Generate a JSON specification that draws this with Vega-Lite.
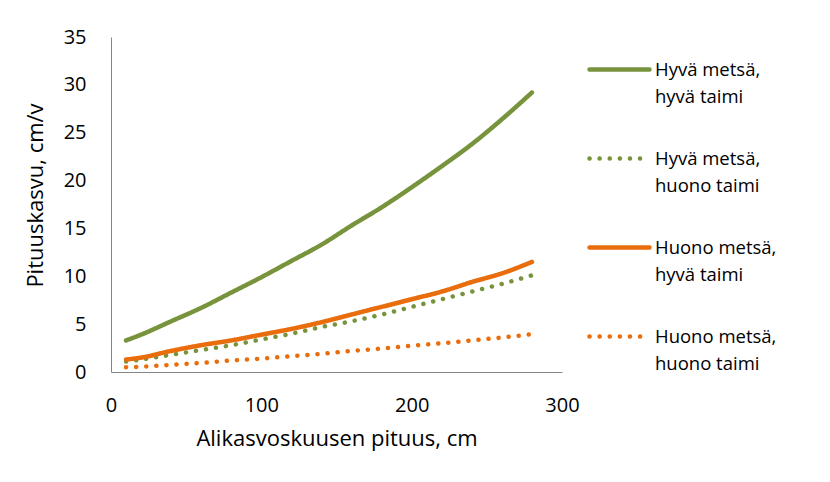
{
  "$schema": "https://vega.github.io/schema/vega-lite/v6.json",
  "width": 451,
  "height": 335,
  "autosize": "none",
  "padding": {"left": 111, "top": 37, "right": 268, "bottom": 110},
  "background": "white",
  "config": {"view": {"stroke": null}, "font": "Open Sans", "axis": {"labelColor": "#000000", "titleColor": "#000000"}},
  "data": {"values": [
    {"pituus": 10, "kasvu": 3.3, "sarja": "Hyvä metsä, hyvä taimi"},
    {"pituus": 20, "kasvu": 3.9, "sarja": "Hyvä metsä, hyvä taimi"},
    {"pituus": 40, "kasvu": 5.3, "sarja": "Hyvä metsä, hyvä taimi"},
    {"pituus": 60, "kasvu": 6.7, "sarja": "Hyvä metsä, hyvä taimi"},
    {"pituus": 80, "kasvu": 8.3, "sarja": "Hyvä metsä, hyvä taimi"},
    {"pituus": 100, "kasvu": 9.9, "sarja": "Hyvä metsä, hyvä taimi"},
    {"pituus": 120, "kasvu": 11.6, "sarja": "Hyvä metsä, hyvä taimi"},
    {"pituus": 140, "kasvu": 13.3, "sarja": "Hyvä metsä, hyvä taimi"},
    {"pituus": 160, "kasvu": 15.3, "sarja": "Hyvä metsä, hyvä taimi"},
    {"pituus": 180, "kasvu": 17.2, "sarja": "Hyvä metsä, hyvä taimi"},
    {"pituus": 200, "kasvu": 19.3, "sarja": "Hyvä metsä, hyvä taimi"},
    {"pituus": 220, "kasvu": 21.5, "sarja": "Hyvä metsä, hyvä taimi"},
    {"pituus": 240, "kasvu": 23.8, "sarja": "Hyvä metsä, hyvä taimi"},
    {"pituus": 260, "kasvu": 26.4, "sarja": "Hyvä metsä, hyvä taimi"},
    {"pituus": 280, "kasvu": 29.2, "sarja": "Hyvä metsä, hyvä taimi"},
    {"pituus": 10, "kasvu": 1.1, "sarja": "Hyvä metsä, huono taimi"},
    {"pituus": 20, "kasvu": 1.3, "sarja": "Hyvä metsä, huono taimi"},
    {"pituus": 40, "kasvu": 1.8, "sarja": "Hyvä metsä, huono taimi"},
    {"pituus": 60, "kasvu": 2.3, "sarja": "Hyvä metsä, huono taimi"},
    {"pituus": 80, "kasvu": 2.8, "sarja": "Hyvä metsä, huono taimi"},
    {"pituus": 100, "kasvu": 3.4, "sarja": "Hyvä metsä, huono taimi"},
    {"pituus": 120, "kasvu": 4.0, "sarja": "Hyvä metsä, huono taimi"},
    {"pituus": 140, "kasvu": 4.7, "sarja": "Hyvä metsä, huono taimi"},
    {"pituus": 160, "kasvu": 5.3, "sarja": "Hyvä metsä, huono taimi"},
    {"pituus": 180, "kasvu": 6.0, "sarja": "Hyvä metsä, huono taimi"},
    {"pituus": 200, "kasvu": 6.8, "sarja": "Hyvä metsä, huono taimi"},
    {"pituus": 220, "kasvu": 7.6, "sarja": "Hyvä metsä, huono taimi"},
    {"pituus": 240, "kasvu": 8.4, "sarja": "Hyvä metsä, huono taimi"},
    {"pituus": 260, "kasvu": 9.2, "sarja": "Hyvä metsä, huono taimi"},
    {"pituus": 280, "kasvu": 10.1, "sarja": "Hyvä metsä, huono taimi"},
    {"pituus": 10, "kasvu": 1.3, "sarja": "Huono metsä, hyvä taimi"},
    {"pituus": 20, "kasvu": 1.5, "sarja": "Huono metsä, hyvä taimi"},
    {"pituus": 40, "kasvu": 2.2, "sarja": "Huono metsä, hyvä taimi"},
    {"pituus": 60, "kasvu": 2.8, "sarja": "Huono metsä, hyvä taimi"},
    {"pituus": 80, "kasvu": 3.3, "sarja": "Huono metsä, hyvä taimi"},
    {"pituus": 100, "kasvu": 3.9, "sarja": "Huono metsä, hyvä taimi"},
    {"pituus": 120, "kasvu": 4.5, "sarja": "Huono metsä, hyvä taimi"},
    {"pituus": 140, "kasvu": 5.2, "sarja": "Huono metsä, hyvä taimi"},
    {"pituus": 160, "kasvu": 6.0, "sarja": "Huono metsä, hyvä taimi"},
    {"pituus": 180, "kasvu": 6.8, "sarja": "Huono metsä, hyvä taimi"},
    {"pituus": 200, "kasvu": 7.6, "sarja": "Huono metsä, hyvä taimi"},
    {"pituus": 220, "kasvu": 8.4, "sarja": "Huono metsä, hyvä taimi"},
    {"pituus": 240, "kasvu": 9.4, "sarja": "Huono metsä, hyvä taimi"},
    {"pituus": 260, "kasvu": 10.3, "sarja": "Huono metsä, hyvä taimi"},
    {"pituus": 280, "kasvu": 11.5, "sarja": "Huono metsä, hyvä taimi"},
    {"pituus": 10, "kasvu": 0.5, "sarja": "Huono metsä, huono taimi"},
    {"pituus": 20, "kasvu": 0.55, "sarja": "Huono metsä, huono taimi"},
    {"pituus": 40, "kasvu": 0.75, "sarja": "Huono metsä, huono taimi"},
    {"pituus": 60, "kasvu": 0.95, "sarja": "Huono metsä, huono taimi"},
    {"pituus": 80, "kasvu": 1.2, "sarja": "Huono metsä, huono taimi"},
    {"pituus": 100, "kasvu": 1.4, "sarja": "Huono metsä, huono taimi"},
    {"pituus": 120, "kasvu": 1.65, "sarja": "Huono metsä, huono taimi"},
    {"pituus": 140, "kasvu": 1.9, "sarja": "Huono metsä, huono taimi"},
    {"pituus": 160, "kasvu": 2.2, "sarja": "Huono metsä, huono taimi"},
    {"pituus": 180, "kasvu": 2.45, "sarja": "Huono metsä, huono taimi"},
    {"pituus": 200, "kasvu": 2.75, "sarja": "Huono metsä, huono taimi"},
    {"pituus": 220, "kasvu": 3.0, "sarja": "Huono metsä, huono taimi"},
    {"pituus": 240, "kasvu": 3.3, "sarja": "Huono metsä, huono taimi"},
    {"pituus": 260, "kasvu": 3.6, "sarja": "Huono metsä, huono taimi"},
    {"pituus": 280, "kasvu": 3.95, "sarja": "Huono metsä, huono taimi"}
  ]},
  "mark": {"type": "line", "strokeWidth": 4.5, "strokeCap": "round", "strokeJoin": "round", "interpolate": "monotone"},
  "encoding": {
    "x": {
      "field": "pituus", "type": "quantitative",
      "scale": {"domain": [0, 300], "nice": false, "zero": true},
      "axis": {"values": [0, 100, 200, 300], "title": "Alikasvoskuusen pituus, cm", "grid": false, "ticks": false, "labelFlush": false,
        "domainColor": "#868686", "domainWidth": 1, "labelFontSize": 20, "labelPadding": 23,
        "titleFontSize": 22, "titleFontWeight": "normal", "titlePadding": 13}
    },
    "y": {
      "field": "kasvu", "type": "quantitative",
      "scale": {"domain": [0, 35], "nice": false},
      "axis": {"values": [0, 5, 10, 15, 20, 25, 30, 35], "title": "Pituuskasvu, cm/v", "grid": false, "ticks": false, "labelFlush": false,
        "domainColor": "#868686", "domainWidth": 1, "labelFontSize": 20, "labelPadding": 25,
        "titleFontSize": 22, "titleFontWeight": "normal", "titlePadding": 16, "titleY": 158}
    },
    "color": {
      "field": "sarja", "type": "nominal",
      "scale": {"domain": ["Hyvä metsä, hyvä taimi", "Hyvä metsä, huono taimi", "Huono metsä, hyvä taimi", "Huono metsä, huono taimi"],
        "range": ["#77933C", "#77933C", "#E96D0C", "#E96D0C"]},
      "legend": {"orient": "none", "legendX": 476, "legendY": 0, "title": null, "padding": 0,
        "symbolType": "stroke", "symbolSize": 3600, "symbolStrokeWidth": 4.5, "labelFontSize": 18.5, "labelColor": "#000000",
        "labelOffset": 3, "rowPadding": 20, "labelLimit": 300,
        "labelExpr": "[split(datum.label, ', ')[0] + ',', split(datum.label, ', ')[1]]",
        "encode": {"symbols": {"update": {"strokeCap": {"value": "round"}}}, "labels": {"update": {"lineHeight": {"value": 27}}}}}
    },
    "strokeDash": {
      "field": "sarja", "type": "nominal",
      "scale": {"domain": ["Hyvä metsä, hyvä taimi", "Hyvä metsä, huono taimi", "Huono metsä, hyvä taimi", "Huono metsä, huono taimi"],
        "range": [[1, 0], [0.1, 10], [1, 0], [0.1, 10]]},
      "legend": {"orient": "none", "legendX": 476, "legendY": 0, "title": null, "padding": 0,
        "symbolType": "stroke", "symbolSize": 3600, "symbolStrokeWidth": 4.5, "labelFontSize": 18.5, "labelColor": "#000000",
        "labelOffset": 3, "rowPadding": 20, "labelLimit": 300,
        "labelExpr": "[split(datum.label, ', ')[0] + ',', split(datum.label, ', ')[1]]",
        "encode": {"symbols": {"update": {"strokeCap": {"value": "round"}}}, "labels": {"update": {"lineHeight": {"value": 27}}}}}
    }
  }
}
